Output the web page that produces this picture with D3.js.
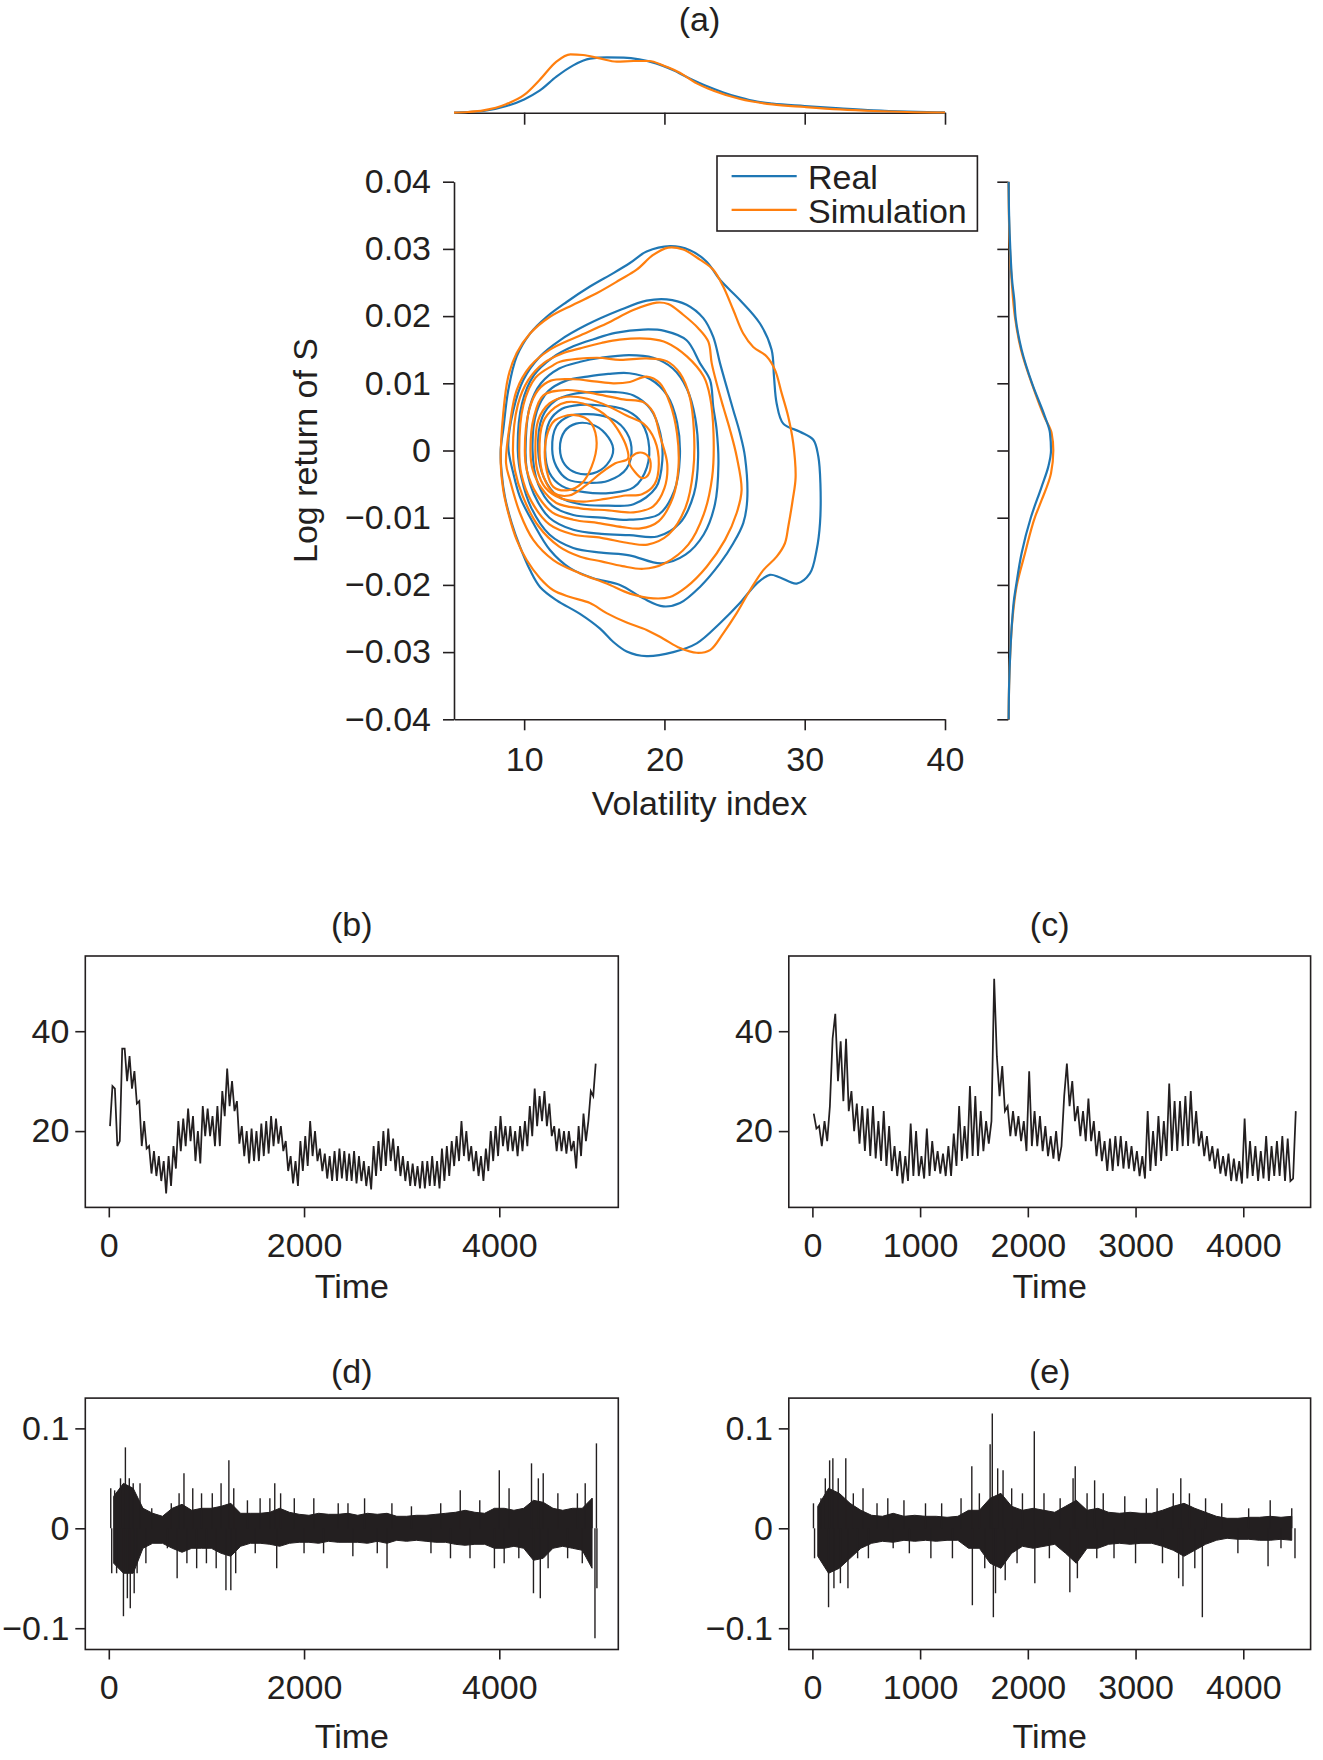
<!DOCTYPE html>
<html><head><meta charset="utf-8">
<script src="https://cdn.jsdelivr.net/npm/d3@7"></script>
<style>
body{margin:0;background:#fff;}
svg text{font-family:"Liberation Sans",Arial,Helvetica,sans-serif;fill:#231f20;}
</style></head><body>
<svg id="chart" width="1323" height="1760"></svg>
<script>
// ---------------- DATA ----------------
const vixTicks = [10, 20, 30, 40];
const retTicks = [-0.04, -0.03, -0.02, -0.01, 0, 0.01, 0.02, 0.03, 0.04];
const legendLabels = ["Real", "Simulation"];

// marginal KDE of volatility index: [vix, density]
const topKdeReal = [[5,0],[6,0.001],[7.1,0.0025],[8.75,0.0097],[10,0.0193],[11.1,0.0319],[12.3,0.0522],[13.5,0.0686],[14.7,0.0783],[15.9,0.0802],[17.1,0.0798],[18.2,0.0773],[19.4,0.0715],[20.6,0.0619],[21.8,0.0497],[23.0,0.0387],[24.2,0.0294],[25.4,0.0218],[26.6,0.016],[27.7,0.0131],[30,0.0097],[32.5,0.0062],[34.9,0.0033],[37.3,0.0015],[40,0.0004]];
const topKdeSim = [[5,0],[6,0.001],[7.1,0.0033],[8.75,0.0126],[10,0.0257],[11.1,0.0474],[12.3,0.074],[13.3,0.0845],[14.2,0.0837],[15.4,0.0787],[16.6,0.074],[17.8,0.075],[18.9,0.075],[20.0,0.0677],[21.1,0.058],[22.3,0.0425],[23.5,0.0319],[25.4,0.0199],[27.7,0.012],[30,0.0083],[32.5,0.0048],[34.9,0.0025],[37.3,0.001],[40,0.0003]];

// marginal KDE of log return: [return, density]
const rightKdeReal = [[0.04,0.3],[0.035,0.8],[0.03,2.0],[0.025,4.0],[0.0224,6.0],[0.0198,7.3],[0.015,13.3],[0.00975,24.3],[0.005,36.7],[0.0026,41.7],[0.0,42.7],[-0.0024,40],[-0.0054,33.3],[-0.0099,22.7],[-0.0153,13.3],[-0.0202,7.7],[-0.0222,5.7],[-0.025,4.0],[-0.03,2.0],[-0.035,0.8],[-0.04,0.3]];
const rightKdeSim = [[0.04,0.2],[0.035,0.6],[0.03,1.6],[0.025,3.5],[0.0198,6.7],[0.015,12.7],[0.00975,24],[0.005,36],[0.0026,43.3],[0.0,45],[-0.0034,42.7],[-0.0074,33.3],[-0.0099,26.7],[-0.0153,16.7],[-0.0202,8.3],[-0.025,4.2],[-0.03,2.0],[-0.035,0.8],[-0.04,0.3]];

// joint density contours: [vix, return] points, outer to inner
const realContours = [
 [[8.33,0.0001],[8.51,0.0031],[8.87,0.009],[9.47,0.014],[10.42,0.0174],[11.61,0.0199],[13.03,0.0221],[14.69,0.0244],[16.36,0.0264],[17.54,0.0279],[18.73,0.0296],[20.4,0.0304],[21.82,0.0298],[23.01,0.0281],[23.96,0.0254],[25.38,0.0224],[26.81,0.0189],[27.64,0.015],[27.81,0.011],[28.0,0.007],[28.47,0.004],[29.66,0.0028],[30.61,0.0016],[30.97,-0.0009],[31.12,-0.005],[31.09,-0.0108],[30.85,-0.0148],[30.37,-0.0183],[29.43,-0.0198],[28.24,-0.0189],[27.52,-0.0185],[26.58,-0.0198],[25.38,-0.0227],[23.96,-0.0257],[22.3,-0.0287],[20.63,-0.03],[18.73,-0.0306],[17.31,-0.0299],[16.36,-0.0285],[15.41,-0.0265],[13.98,-0.0243],[12.32,-0.0223],[11.13,-0.0203],[10.42,-0.0178],[9.7,-0.0143],[9.11,-0.0108],[8.63,-0.0069],[8.4,-0.0034]],
 [[8.87,0.0006],[9.23,0.006],[9.94,0.0105],[11.13,0.014],[12.55,0.0164],[14.46,0.0187],[16.83,0.0209],[18.73,0.0223],[20.16,0.0225],[21.58,0.0217],[22.77,0.0197],[23.48,0.0169],[23.96,0.013],[24.43,0.0095],[24.91,0.006],[25.38,0.0026],[25.74,-0.0009],[25.9,-0.0074],[25.62,-0.0108],[24.91,-0.0138],[23.96,-0.0168],[22.53,-0.0203],[21.11,-0.0227],[19.92,-0.0232],[18.49,-0.022],[16.83,-0.02],[14.93,-0.019],[13.27,-0.0175],[11.84,-0.0148],[10.65,-0.0108],[9.7,-0.0069],[9.23,-0.0034]],
 [[9.55,0],[9.85,0.007],[10.7,0.0112],[12.0,0.0138],[13.5,0.0155],[15.0,0.0166],[16.5,0.0175],[18.5,0.018],[20.0,0.0178],[21.58,0.0164],[22.53,0.013],[23.25,0.0105],[23.48,0.0065],[23.72,0.0031],[23.85,-0.002],[23.6,-0.008],[22.8,-0.0125],[21.5,-0.0155],[19.8,-0.0168],[17.5,-0.0156],[15.5,-0.0152],[13.5,-0.0145],[11.8,-0.0125],[10.5,-0.0085],[9.8,-0.004]],
 [[10.1,0],[10.4,0.0065],[11.2,0.01],[12.5,0.0122],[14.0,0.0132],[15.5,0.0138],[17.5,0.0142],[19.2,0.0138],[20.6,0.0122],[21.6,0.0092],[22.2,0.0048],[22.4,-0.001],[22.1,-0.0065],[21.1,-0.0108],[19.5,-0.0128],[17.5,-0.0126],[15.5,-0.0124],[13.5,-0.0118],[11.8,-0.01],[10.7,-0.0065],[10.2,-0.003]],
 [[10.6,0],[10.9,0.0058],[11.7,0.0088],[13.0,0.0104],[14.5,0.011],[16.0,0.0114],[17.5,0.0115],[19.0,0.0106],[20.2,0.0082],[20.9,0.0042],[21.1,-0.001],[20.7,-0.006],[19.6,-0.0095],[17.5,-0.0103],[15.5,-0.01],[13.5,-0.0096],[12.0,-0.0082],[11.0,-0.005]],
 [[11.0,0],[11.3,0.005],[12.2,0.0074],[13.5,0.0084],[15.0,0.0087],[16.5,0.0087],[17.8,0.0082],[19.0,0.0062],[19.7,0.0026],[19.85,-0.0015],[19.4,-0.0055],[17.8,-0.008],[16.0,-0.0082],[14.0,-0.008],[12.4,-0.0068],[11.4,-0.004]],
 [[11.5,0],[11.8,0.0043],[12.7,0.0062],[14.0,0.0068],[15.5,0.0067],[17.0,0.0062],[18.2,0.0046],[18.85,0.0015],[18.75,-0.0025],[17.8,-0.0055],[16.2,-0.0063],[14.3,-0.0062],[12.7,-0.0053],[11.8,-0.0033]],
 [[12.0,0.0002],[12.3,0.0036],[13.2,0.0051],[14.5,0.0054],[16.0,0.0049],[17.1,0.0033],[17.65,0.0005],[17.3,-0.0027],[16.0,-0.0045],[14.5,-0.0048],[13.1,-0.0043],[12.3,-0.0024]],
 [[12.55,0.0003],[12.9,0.0029],[13.7,0.004],[14.8,0.0039],[15.8,0.0025],[16.35,0.0002],[15.9,-0.0021],[14.9,-0.0034],[13.7,-0.0033],[12.9,-0.0021]]
];
const simContours = [
 [[8.33,-0.0019],[8.51,0.0055],[8.87,0.011],[9.47,0.0145],[10.42,0.0174],[11.84,0.0199],[13.5,0.0217],[15.17,0.0234],[16.83,0.0254],[18.02,0.0269],[19.2,0.0291],[20.27,0.0302],[21.34,0.0299],[22.53,0.0284],[23.48,0.0269],[24.19,0.0244],[24.91,0.0209],[25.62,0.0174],[26.33,0.0154],[27.29,0.014],[27.88,0.012],[28.36,0.0085],[28.83,0.005],[29.18,0.0011],[29.35,-0.004],[29.14,-0.0074],[28.83,-0.0113],[28.59,-0.0138],[28.0,-0.0158],[27.05,-0.0178],[26.1,-0.0208],[25.15,-0.0242],[24.19,-0.0272],[23.25,-0.0297],[22.3,-0.0301],[21.11,-0.0294],[19.92,-0.028],[18.73,-0.0267],[17.31,-0.0256],[15.88,-0.0242],[14.69,-0.0227],[13.27,-0.0218],[12.08,-0.0208],[11.13,-0.019],[10.18,-0.0163],[9.47,-0.0133],[8.87,-0.0093],[8.51,-0.0059]],
 [[8.71,-0.0019],[8.99,0.004],[9.47,0.009],[10.42,0.0125],[11.84,0.015],[13.74,0.0169],[15.88,0.0189],[17.78,0.0209],[19.44,0.022],[20.27,0.0218],[21.34,0.0202],[22.41,0.0182],[23.13,0.0162],[23.37,0.013],[23.72,0.01],[24.19,0.0065],[24.67,0.0031],[25.15,-0.0009],[25.5,-0.0059],[25.15,-0.0093],[24.32,-0.0133],[23.01,-0.0173],[21.58,-0.0203],[20.4,-0.0218],[19.2,-0.022],[17.54,-0.0213],[15.88,-0.0198],[13.98,-0.0183],[12.08,-0.0163],[10.65,-0.0133],[9.7,-0.0093],[8.99,-0.0044]],
 [[9.2,0],[9.55,0.0068],[10.3,0.0105],[11.4,0.013],[12.8,0.0145],[14.0,0.0152],[15.5,0.016],[16.8,0.0165],[19.0,0.0166],[20.2,0.016],[21.6,0.014],[22.8,0.011],[23.25,0.008],[23.5,0.0025],[23.4,-0.004],[22.8,-0.0095],[21.7,-0.014],[20.0,-0.0168],[18.5,-0.0176],[17.0,-0.0172],[15.5,-0.0165],[14.0,-0.0158],[12.5,-0.0143],[11.0,-0.0112],[9.9,-0.0068],[9.35,-0.003]],
 [[9.65,0],[9.95,0.0068],[10.8,0.0108],[12.0,0.0126],[12.55,0.0132],[15.17,0.0138],[16.83,0.0135],[18.73,0.0137],[20.16,0.0133],[21.1,0.0115],[21.8,0.008],[22.1,0.003],[22.05,-0.003],[21.5,-0.0085],[20.3,-0.0125],[18.8,-0.014],[17.5,-0.0138],[15.5,-0.013],[13.5,-0.0125],[11.8,-0.011],[10.5,-0.0075],[9.8,-0.0035]],
 [[10.05,0],[10.35,0.006],[11.0,0.009],[11.9,0.0104],[13.5,0.0106],[15.0,0.0103],[16.35,0.01],[17.54,0.0102],[18.73,0.011],[19.68,0.01],[20.4,0.007],[20.9,0.0025],[21.0,-0.0025],[20.6,-0.007],[19.6,-0.0105],[18.3,-0.0116],[17.0,-0.0114],[15.3,-0.0108],[13.5,-0.0103],[12.0,-0.0092],[10.9,-0.0065],[10.2,-0.003]],
 [[10.45,0],[10.7,0.005],[11.37,0.0082],[13.03,0.009],[15.17,0.0084],[17.07,0.0076],[18.49,0.0072],[19.2,0.0057],[19.68,0.0022],[20.2,-0.002],[20.0,-0.0056],[19.2,-0.0083],[17.8,-0.0092],[16.0,-0.0089],[14.0,-0.0086],[12.3,-0.0078],[11.2,-0.0055],[10.6,-0.0028]],
 [[10.8,0],[11.0,0.0045],[11.8,0.007],[13.0,0.008],[14.5,0.0077],[16.0,0.0066],[17.3,0.0052],[18.5,0.004],[19.3,0.0016],[19.6,-0.002],[19.3,-0.005],[18.4,-0.0065],[17.2,-0.0067],[15.8,-0.0072],[14.2,-0.0076],[12.6,-0.0071],[11.5,-0.0055],[10.95,-0.003]],
 [[11.1,-0.0005],[11.35,0.0042],[12.2,0.0064],[13.03,0.0072],[14.2,0.007],[15.3,0.006],[16.1,0.0047],[16.8,0.0027],[17.3,0.0005],[17.4,-0.0012],[16.5,-0.0019],[15.5,-0.0033],[14.4,-0.0052],[13.2,-0.0067],[12.1,-0.0063],[11.4,-0.004]],
 [[11.49,0.0006],[11.84,0.0035],[12.2,0.0045],[13.39,0.0053],[14.3,0.0049],[14.81,0.004],[15.17,0.0011],[14.81,-0.0024],[14.1,-0.0049],[13.15,-0.0059],[12.08,-0.0054],[11.6,-0.0029]],
 [[17.48,-0.0017],[17.67,-0.0009],[18.26,-0.0003],[18.85,-0.0009],[19.02,-0.0024],[18.73,-0.0039],[18.38,-0.0041],[17.9,-0.0032]]
];

// (b) and (c): volatility index, per 50-step bin the two extremes in time order
const volStep = 50;
const volBandB = [[21,29],[28.5,17],[18,36.5],[36.5,30],[35,28.5],[32,25.5],[26,17],[22,16.5],[17,11.5],[16,11],[15,10],[14,7.5],[15,9],[17,12.5],[22,16],[22.5,17],[24.5,18],[23,14],[20,13.5],[25,19],[24.5,19],[23,17],[25,17],[28,23],[32.5,25],[30,24],[26,17.5],[21,15],[20,13.5],[20.5,14],[20,14],[21.5,15],[22,15.5],[23,17],[22.5,17.5],[21,16],[18,12],[15,9.5],[14,9],[18,12],[19,13],[22,15],[20,14],[16.5,12],[15.5,10.5],[15,10],[16,10],[16.5,10.5],[16,10],[15.5,10],[16,9.5],[15,10],[14,9],[13,8.3],[17,11],[18,12],[20,13],[20.5,14],[18.5,12],[17,11],[15,10],[14,9],[13.5,9],[13,8.5],[14,8.5],[14,9],[15,9],[14,8.5],[16.5,10],[17,11],[18,13],[19,14],[22,15],[20,14],[17,12],[16,11],[15,10],[16.5,12],[20,14],[21,15],[23,17],[21,16],[21,16],[20,15],[21,16],[22,17],[25,19],[28.5,21],[27,22],[28,21],[25.5,19],[21,16],[20.5,16],[20,15.5],[20,16],[18,12.5],[21,15],[23.5,18],[22,28],[27,33.5]];
const volBandC = [[23.5,20.5],[21,17],[22,18],[25,38.5],[43.5,30],[38,26],[38.5,24],[28,20],[25.5,17.5],[25,16],[24.5,15],[25,14.5],[22,14],[24,13],[21,12],[17,11],[16,9.5],[15,10],[21.5,11],[20,11],[15,10.5],[20.5,11],[18,12],[16,11.5],[15.5,11],[17,11],[19.5,13],[25,14],[21,14.5],[29,15],[27,15],[24,16],[22,17.5],[22,50.5],[35,27],[33,24],[25,19],[24,19],[23,18],[22,16],[32,17],[24,17],[23,16],[21,15],[19,14.5],[20,14],[17,27],[33.5,25],[30,22],[25,19],[24,18],[26.5,18],[22,15],[20,14],[18,12],[18.5,12],[19,13],[19,12.5],[18,12.5],[17,12],[16,11],[15,10.5],[24,12],[20,13],[23,14],[22,15],[29.5,16],[26,16],[26,17],[27,17],[28,17.5],[24,17],[20,15],[19,14],[17,12.5],[16.5,11.5],[15,11],[15.5,10],[14.5,10],[14,9.5],[22.5,10.5],[18,11],[17,10],[16,10.5],[19,10],[17,11],[18,11],[19,10],[18.5,10],[10.5,24]];

// (d) and (e): log-return core band per 100 time steps [high, low], plus single spikes [time, value]
const bandStep = 100;
const bandD = [[0.032,-0.035],[0.045,-0.045],[0.04,-0.045],[0.02,-0.02],[0.015,-0.015],[0.012,-0.015],[0.02,-0.02],[0.024,-0.024],[0.018,-0.02],[0.02,-0.02],[0.02,-0.02],[0.022,-0.025],[0.025,-0.028],[0.015,-0.018],[0.015,-0.015],[0.015,-0.015],[0.016,-0.016],[0.02,-0.018],[0.016,-0.015],[0.014,-0.014],[0.013,-0.014],[0.015,-0.015],[0.014,-0.013],[0.014,-0.014],[0.015,-0.014],[0.013,-0.014],[0.015,-0.015],[0.014,-0.013],[0.015,-0.015],[0.012,-0.012],[0.012,-0.013],[0.013,-0.012],[0.013,-0.013],[0.014,-0.014],[0.015,-0.014],[0.016,-0.016],[0.018,-0.017],[0.016,-0.016],[0.015,-0.016],[0.02,-0.02],[0.02,-0.02],[0.018,-0.018],[0.02,-0.02],[0.028,-0.032],[0.026,-0.03],[0.02,-0.02],[0.018,-0.018],[0.02,-0.02],[0.02,-0.022],[0.03,-0.04]];
const spikesD = [[20,0.04],[30,-0.045],[60,0.038],[80,-0.045],[120,0.05],[150,-0.088],[170,0.081],[190,-0.07],[210,0.05],[220,-0.08],[250,0.045],[260,-0.065],[290,-0.045],[320,0.045],[380,-0.035],[440,0.02],[600,-0.02],[640,0.025],[700,-0.05],[720,0.035],[770,0.055],[800,-0.035],[860,0.04],[900,-0.04],[950,0.035],[1000,-0.035],[1060,0.035],[1100,-0.04],[1150,0.045],[1200,-0.062],[1230,0.068],[1250,-0.062],[1280,0.04],[1300,-0.045],[1420,0.028],[1500,-0.025],[1550,0.03],[1650,0.03],[1700,0.045],[1720,-0.04],[1760,0.035],[1900,0.03],[2000,-0.025],[2100,0.03],[2200,-0.025],[2350,0.025],[2450,0.025],[2500,-0.028],[2620,0.03],[2750,-0.025],[2850,-0.04],[2900,0.025],[3100,0.022],[3300,-0.025],[3400,0.025],[3500,-0.03],[3600,0.038],[3700,-0.03],[3800,0.028],[3950,-0.04],[4000,0.058],[4050,-0.035],[4100,0.04],[4200,-0.03],[4330,0.065],[4350,-0.065],[4400,0.05],[4420,-0.07],[4450,0.055],[4500,-0.04],[4600,0.035],[4700,-0.03],[4800,0.035],[4850,-0.035],[4880,0.045],[4950,0.03],[4980,-0.11],[4995,0.085],[5000,-0.06]];
const bandE = [[0.022,-0.028],[0.04,-0.045],[0.035,-0.04],[0.025,-0.03],[0.018,-0.02],[0.013,-0.015],[0.012,-0.013],[0.015,-0.014],[0.012,-0.012],[0.013,-0.013],[0.012,-0.012],[0.012,-0.013],[0.011,-0.012],[0.012,-0.012],[0.018,-0.02],[0.018,-0.02],[0.03,-0.035],[0.035,-0.04],[0.022,-0.025],[0.018,-0.018],[0.02,-0.02],[0.018,-0.018],[0.016,-0.016],[0.022,-0.025],[0.028,-0.035],[0.018,-0.02],[0.02,-0.02],[0.016,-0.016],[0.015,-0.015],[0.016,-0.016],[0.015,-0.015],[0.015,-0.015],[0.018,-0.018],[0.022,-0.022],[0.025,-0.028],[0.02,-0.022],[0.016,-0.016],[0.012,-0.012],[0.01,-0.01],[0.01,-0.011],[0.011,-0.011],[0.011,-0.012],[0.012,-0.012],[0.011,-0.011],[0.012,-0.012]];
const spikesE = [[10,0.025],[20,-0.03],[80,0.03],[120,0.05],[150,-0.079],[160,0.068],[190,0.07],[200,-0.06],[240,0.05],[260,-0.055],[310,0.07],[330,-0.06],[380,0.035],[420,-0.03],[470,0.04],[520,-0.03],[600,0.025],[700,0.03],[750,-0.02],[850,0.028],[900,-0.025],[1050,0.025],[1100,-0.03],[1200,0.025],[1300,-0.03],[1380,0.03],[1480,0.062],[1485,-0.077],[1550,0.035],[1600,-0.04],[1650,0.084],[1670,0.115],[1680,-0.089],[1700,-0.065],[1720,0.06],[1770,0.058],[1790,-0.052],[1850,0.04],[1900,-0.035],[1950,0.035],[2060,0.097],[2065,-0.055],[2150,0.035],[2200,-0.03],[2300,0.03],[2390,-0.064],[2420,0.05],[2440,0.062],[2460,-0.05],[2550,0.035],[2620,0.048],[2640,-0.03],[2700,0.035],[2800,-0.03],[2900,0.032],[3000,-0.035],[3100,0.03],[3200,0.04],[3250,-0.035],[3350,0.035],[3400,-0.05],[3420,0.05],[3440,-0.058],[3500,0.035],[3550,-0.04],[3620,-0.089],[3650,0.03],[3800,0.025],[3950,-0.025],[4050,0.02],[4230,-0.038],[4250,0.028],[4350,-0.02],[4450,0.02],[4480,-0.03]];

const ticksTime5000 = [0, 2000, 4000];
const ticksTime4500 = [0, 1000, 2000, 3000, 4000];
const ticksVol = [20, 40];
const ticksRet = [-0.1, 0, 0.1];

// ---------------- DRAWING ----------------
const ink = "#231f20", blue = "#1f77b4", orange = "#ff7f0e";
const FS = 34;
const svg = d3.select("#chart");

function styleAxis(g, fs) {
  g.attr("font-family", null).attr("font-size", null);
  g.selectAll("path, line").attr("stroke", ink).attr("stroke-width", 1.6);
  g.selectAll("text").attr("font-size", fs).attr("fill", ink)
    .style("font-family", '"Liberation Sans", Arial, Helvetica, sans-serif');
}
const fmtRet = d => d === 0 ? "0" : d3.format(".2f")(d);
const fmtRet1 = d => d === 0 ? "0" : d3.format(".1f")(d);

// ---- panel (a)
const xA = d3.scaleLinear().domain([5, 40]).range([454, 945]);
const yA = d3.scaleLinear().domain([-0.04, 0.04]).range([719.3, 181.7]);
const yTop = d3.scaleLinear().domain([0, 0.08]).range([112.7, 57.53]);
const xRight = d3.scaleLinear().domain([0, 45]).range([1008.3, 1053.3]);

const gA = svg.append("g");
const cLine = d3.line().x(d => xA(d[0])).y(d => yA(d[1])).curve(d3.curveCatmullRomClosed.alpha(0.5));
realContours.forEach(c => gA.append("path").attr("d", cLine(c)).attr("fill", "none")
  .attr("stroke", blue).attr("stroke-width", 2.2));
simContours.forEach(c => gA.append("path").attr("d", cLine(c)).attr("fill", "none")
  .attr("stroke", orange).attr("stroke-width", 2.2));

const axAL = gA.append("g").attr("transform", "translate(454,0)")
  .call(d3.axisLeft(yA).tickValues(retTicks).tickSize(11).tickSizeOuter(0).tickPadding(12).tickFormat(fmtRet));
styleAxis(axAL, FS);
const axAB = gA.append("g").attr("transform", "translate(0,719.3)")
  .call(d3.axisBottom(xA).tickValues(vixTicks).tickSize(11).tickSizeOuter(0).tickPadding(16.4).tickFormat(d3.format("d")));
styleAxis(axAB, FS);

gA.append("text").attr("x", 699.5).attr("y", 815).attr("text-anchor", "middle").attr("font-size", FS).text("Volatility index");
gA.append("text").attr("transform", "translate(317,450.5) rotate(-90)").attr("text-anchor", "middle").attr("font-size", FS).text("Log return of S");
gA.append("text").attr("x", 699.5).attr("y", 31).attr("text-anchor", "middle").attr("font-size", FS).text("(a)");

// top marginal
const axTop = gA.append("g").attr("transform", "translate(0,112.7)")
  .call(d3.axisBottom(xA).tickValues(vixTicks).tickSize(12).tickSizeOuter(0).tickFormat(""));
styleAxis(axTop, FS);
const topLine = d3.line().x(d => xA(d[0])).y(d => yTop(d[1])).curve(d3.curveMonotoneX);
gA.append("path").attr("d", topLine(topKdeReal)).attr("fill", "none").attr("stroke", blue).attr("stroke-width", 2.2);
gA.append("path").attr("d", topLine(topKdeSim)).attr("fill", "none").attr("stroke", orange).attr("stroke-width", 2.2);

// right marginal
const axRight = gA.append("g").attr("transform", "translate(1008.3,0)")
  .call(d3.axisLeft(yA).tickValues(retTicks).tickSize(11).tickSizeOuter(0).tickFormat(""));
styleAxis(axRight, FS);
const rightLine = d3.line().x(d => xRight(d[1])).y(d => yA(d[0])).curve(d3.curveMonotoneY);
gA.append("path").attr("d", rightLine(rightKdeSim)).attr("fill", "none").attr("stroke", orange).attr("stroke-width", 2.2);
gA.append("path").attr("d", rightLine(rightKdeReal)).attr("fill", "none").attr("stroke", blue).attr("stroke-width", 2.2);

// legend
const lg = gA.append("g");
lg.append("rect").attr("x", 717).attr("y", 156).attr("width", 260.4).attr("height", 75)
  .attr("fill", "#fff").attr("stroke", ink).attr("stroke-width", 1.6);
[[blue, 176.2, 188.5], [orange, 209.8, 223]].forEach((s, i) => {
  lg.append("line").attr("x1", 731.6).attr("x2", 796.7).attr("y1", s[1]).attr("y2", s[1])
    .attr("stroke", s[0]).attr("stroke-width", 2.2);
  lg.append("text").attr("x", 808).attr("y", s[2]).attr("font-size", FS).text(legendLabels[i]);
});

// ---- lower panels
function tsPanel(box, xDom, yDom, xTicks, yTicks, yFmt, title, titleY, timeY, draw) {
  const x = d3.scaleLinear().domain(xDom).range([box.l, box.r]);
  const y = d3.scaleLinear().domain(yDom).range([box.b, box.t]);
  const g = svg.append("g");
  draw(g, x, y);
  g.append("rect").attr("x", box.l).attr("y", box.t).attr("width", box.r - box.l).attr("height", box.b - box.t)
    .attr("fill", "none").attr("stroke", ink).attr("stroke-width", 1.6);
  const ax = g.append("g").attr("transform", `translate(0,${box.b})`)
    .call(d3.axisBottom(x).tickValues(xTicks).tickSize(10).tickSizeOuter(0).tickPadding(15).tickFormat(d3.format("d")));
  styleAxis(ax, FS);
  ax.select(".domain").attr("stroke", "none");
  const ay = g.append("g").attr("transform", `translate(${box.l},0)`)
    .call(d3.axisLeft(y).tickValues(yTicks).tickSize(10).tickSizeOuter(0).tickPadding(6).tickFormat(yFmt));
  styleAxis(ay, FS);
  ay.select(".domain").attr("stroke", "none");
  const cx = (box.l + box.r) / 2;
  g.append("text").attr("x", cx).attr("y", titleY).attr("text-anchor", "middle").attr("font-size", FS).text(title);
  g.append("text").attr("x", cx).attr("y", timeY).attr("text-anchor", "middle").attr("font-size", FS).text("Time");
}

const boxB = {l: 85.3, r: 618.3, t: 956, b: 1207.4};
const boxC = {l: 788.8, r: 1310.6, t: 956, b: 1207.4};
const boxD = {l: 85.3, r: 618.3, t: 1398.1, b: 1649.5};
const boxE = {l: 788.8, r: 1310.6, t: 1398.1, b: 1649.5};
const domB = [-240.7, 5219], domC = [-219, 4625];
const domVol = [4.72, 55.06], domRet = [-0.1213, 0.1303];

function drawVol(bands) {
  return (g, x, y) => {
    const pts = [];
    bands.forEach((b, i) => {
      pts.push([i * volStep + volStep * 0.25, b[0]]);
      pts.push([i * volStep + volStep * 0.75, b[1]]);
    });
    g.append("path").attr("d", d3.line().x(d => x(d[0])).y(d => y(d[1]))(pts))
      .attr("fill", "none").attr("stroke", ink).attr("stroke-width", 1.75).attr("stroke-linejoin", "miter");
  };
}
function drawRet(band, spikes, tEnd) {
  return (g, x, y) => {
    const area = d3.area()
      .x((d, i) => x(Math.min(tEnd, i * bandStep + bandStep / 2)))
      .y0(d => y(d[1])).y1(d => y(d[0]));
    g.append("path").attr("d", area(band)).attr("fill", ink).attr("stroke", ink).attr("stroke-width", 1);
    g.selectAll(null).data(spikes).join("line")
      .attr("x1", d => x(d[0])).attr("x2", d => x(d[0]))
      .attr("y1", y(0)).attr("y2", d => y(d[1]))
      .attr("stroke", ink).attr("stroke-width", 1.4);
  };
}

tsPanel(boxB, domB, domVol, ticksTime5000, ticksVol, d3.format("d"), "(b)", 935.7, 1298, drawVol(volBandB));
tsPanel(boxC, domC, domVol, ticksTime4500, ticksVol, d3.format("d"), "(c)", 935.7, 1298, drawVol(volBandC));
tsPanel(boxD, domB, domRet, ticksTime5000, ticksRet, fmtRet1, "(d)", 1383.4, 1748, drawRet(bandD, spikesD, 5000));
tsPanel(boxE, domC, domRet, ticksTime4500, ticksRet, fmtRet1, "(e)", 1383.4, 1748, drawRet(bandE, spikesE, 4500));
</script>
</body></html>
